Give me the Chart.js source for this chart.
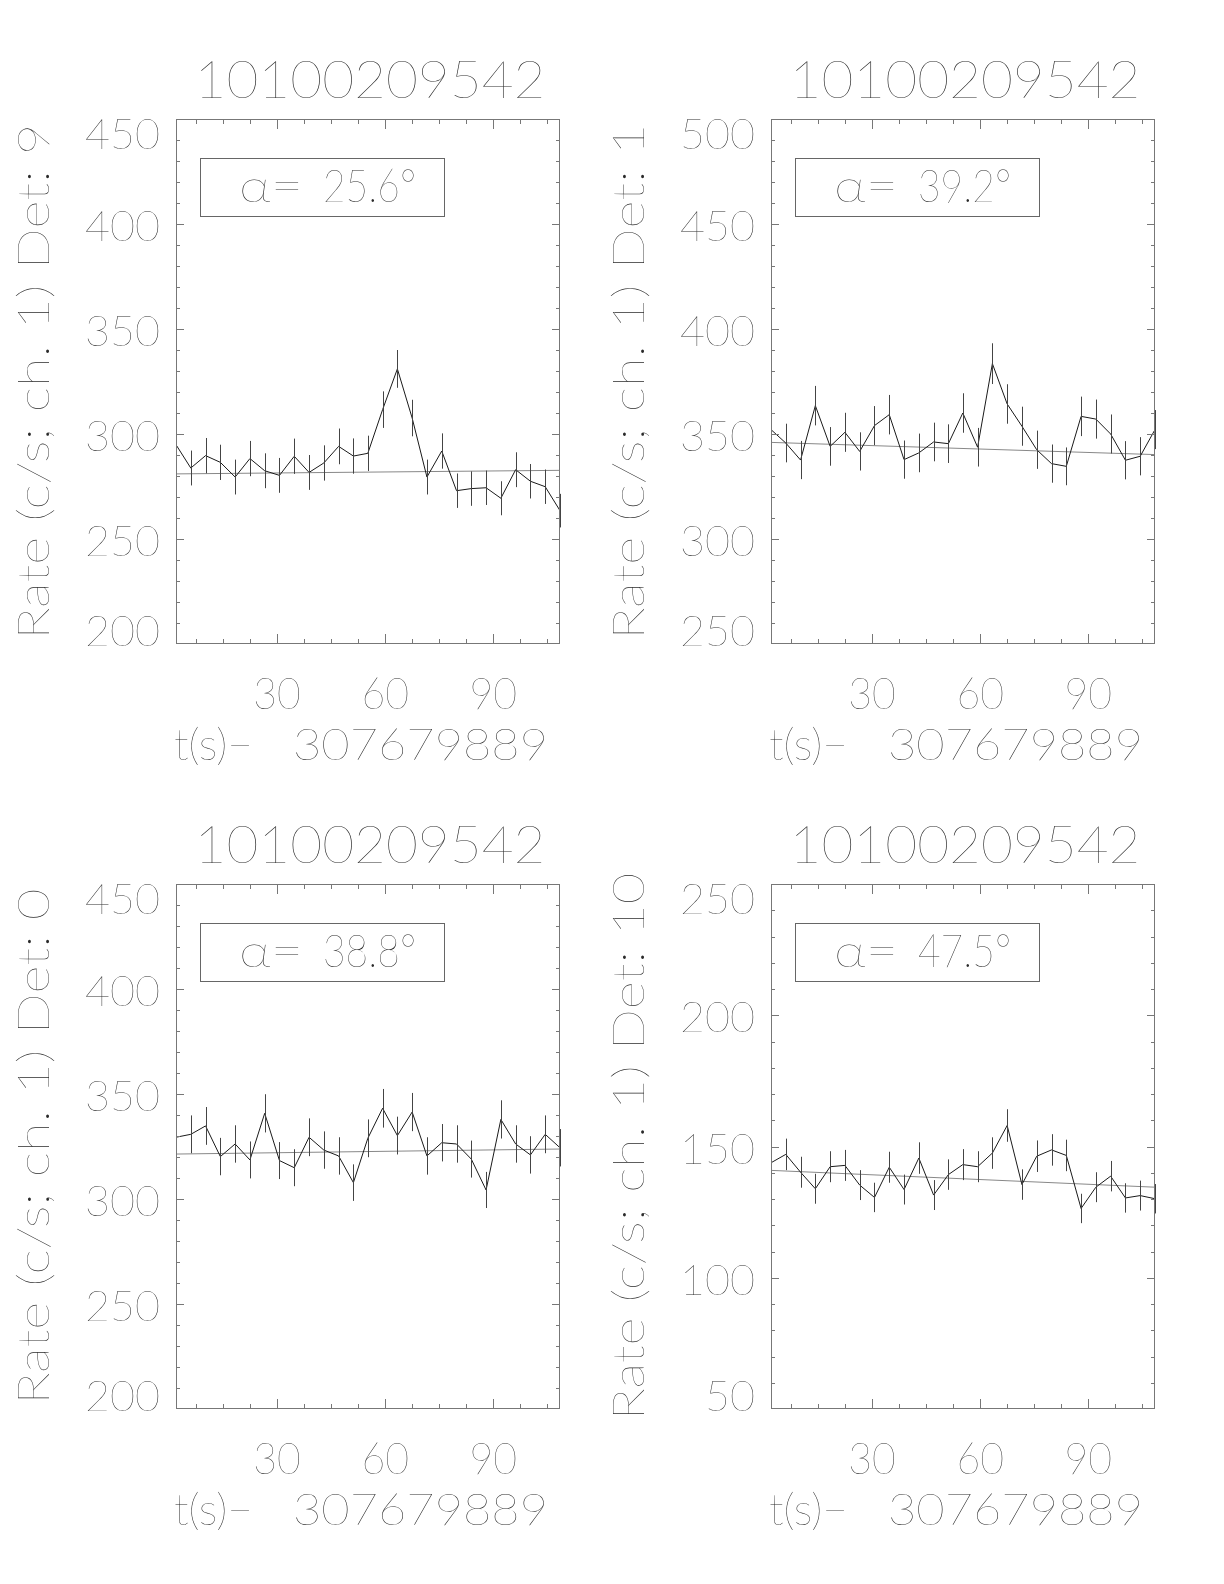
<!DOCTYPE html>
<html>
<head>
<meta charset="utf-8">
<script src="https://cdn.jsdelivr.net/npm/chart.js@4.4.0/dist/chart.umd.min.js"></script>
<style>
  html, body { margin: 0; padding: 0; background: #fff; }
  #page { position: relative; width: 1224px; height: 1584px; background: #fff; }
  canvas { position: absolute; }
</style>
</head>
<body>
<div id="page">
  <canvas id="det9" width="595" height="765" style="left:0;top:0"></canvas>
  <canvas id="det1" width="595" height="765" style="left:595px;top:0"></canvas>
  <canvas id="det0" width="595" height="765" style="left:0;top:765px"></canvas>
  <canvas id="det10" width="595" height="765" style="left:595px;top:765px"></canvas>
</div>
<script>
// Light curves, channel 1, four detectors

const obsId = '10100209542';
const tOffset = '307679889';

// bin times (s after tOffset)
const times = [2.0, 6.1, 10.2, 14.3, 18.4, 22.5, 26.6, 30.7, 34.8, 38.9, 43.0, 47.1, 51.2, 55.2,
  59.3, 63.4, 67.5, 71.6, 75.7, 79.8, 83.9, 88.0, 92.1, 96.2, 100.3, 104.4, 108.5];
const xTicks = [30, 60, 90];

// Det 9
const rateDet9 = [294.9, 283.8, 289.7, 286.5, 279.5, 288.3, 282.5, 280.3, 289.4, 281.7, 286.2, 294.1, 289.5, 290.8,
  311.6, 331.0, 307.6, 279.5, 291.9, 273.0, 274.0, 274.4, 269.4, 283.0, 277.5, 274.9, 263.5];
const errDet9 = [8.5, 8.3, 8.4, 8.4, 8.3, 8.4, 8.3, 8.3, 8.4, 8.3, 8.4, 8.5, 8.4, 8.4,
  8.7, 9.0, 8.7, 8.3, 8.4, 8.2, 8.2, 8.2, 8.1, 8.3, 8.2, 8.2, 8.0];
const fitDet9 = [281.0, 282.7];
const yTicksDet9 = [200, 250, 300, 350, 400, 450];

// Det 1
const rateDet1 = [352.1, 345.7, 337.6, 363.5, 344.1, 350.8, 341.7, 354.0, 359.2, 337.8, 341.0, 346.2, 345.4, 360.0,
  343.7, 383.5, 364.3, 353.7, 342.5, 335.9, 334.6, 358.4, 357.1, 350.0, 337.5, 339.4, 352.1];
const errDet1 = [9.3, 9.2, 9.1, 9.4, 9.2, 9.3, 9.1, 9.3, 9.4, 9.1, 9.2, 9.2, 9.2, 9.4,
  9.2, 9.7, 9.4, 9.3, 9.1, 9.1, 9.0, 9.4, 9.3, 9.3, 9.1, 9.1, 9.3];
const fitDet1 = [346.0, 340.2];
const yTicksDet1 = [250, 300, 350, 400, 450, 500];

// Det 0
const rateDet0 = [329.4, 330.8, 334.8, 320.2, 326.2, 318.6, 340.8, 318.3, 314.9, 329.4, 323.3, 320.5, 307.8, 328.9,
  343.2, 330.2, 341.4, 320.5, 326.8, 326.2, 319.0, 304.3, 337.9, 326.2, 321.0, 330.8, 324.4];
const errDet0 = [9.0, 9.0, 9.0, 8.9, 8.9, 8.8, 9.1, 8.8, 8.8, 9.0, 8.9, 8.9, 8.7, 9.0,
  9.2, 9.0, 9.1, 8.9, 8.9, 8.9, 8.8, 8.6, 9.1, 8.9, 8.9, 9.0, 8.9];
const fitDet0 = [321.4, 323.8];
const yTicksDet0 = [200, 250, 300, 350, 400, 450];

// Det 10
const rateDet10 = [143.8, 147.0, 140.2, 133.9, 142.3, 142.8, 135.3, 130.6, 142.1, 133.6, 145.6, 131.5, 139.3, 143.1,
  142.3, 147.5, 158.0, 135.5, 146.3, 148.7, 146.6, 126.4, 134.5, 138.7, 130.4, 131.3, 130.1];
const errDet10 = [5.9, 6.0, 5.9, 5.7, 5.9, 5.9, 5.7, 5.6, 5.9, 5.7, 6.0, 5.7, 5.8, 5.9,
  5.9, 6.0, 6.2, 5.8, 6.0, 6.0, 6.0, 5.6, 5.7, 5.8, 5.6, 5.7, 5.6];
const fitDet10 = [140.9, 134.5];
const yTicksDet10 = [50, 100, 150, 200, 250];

const panels = [
  { id: 'det9', det: '9', alpha: '25.6', rate: rateDet9, err: errDet9, fit: fitDet9, yTicks: yTicksDet9 },
  { id: 'det1', det: '1', alpha: '39.2', rate: rateDet1, err: errDet1, fit: fitDet1, yTicks: yTicksDet1 },
  { id: 'det0', det: '0', alpha: '38.8', rate: rateDet0, err: errDet0, fit: fitDet0, yTicks: yTicksDet0 },
  { id: 'det10', det: '10', alpha: '47.5', rate: rateDet10, err: errDet10, fit: fitDet10, yTicks: yTicksDet10 }
];

const fontStack = '"Lato", "Open Sans", "DejaVu Sans", sans-serif';
const fontWeight = '200';
const textColor = '#2a2a2a';
const frameColor = '#777';

// text styles: font size and the width a reference string should take
const styles = {
  title:  { size: 51, ref: obsId, width: 351 },
  ytick:  { size: 42, ref: '450', width: 75 },
  xtick:  { size: 44, ref: '30', width: 47.5 },
  xunit:  { size: 44, ref: 't(s)\u2212', width: 79 },
  xoff:   { size: 44, ref: tOffset, width: 255 },
  ytitle: { size: 43, ref: 'Rate (c/s; ch. 1) Det: 9', width: 516 },
  alphaSym: { size: 46, ref: '\u03b1=', width: 64 },
  alphaVal: { size: 46, ref: '25.6\u00b0', width: 93 }
};

// work out horizontal stretch for each style
const measureCtx = document.createElement('canvas').getContext('2d');
Object.keys(styles).forEach(function(k) {
  const s = styles[k];
  measureCtx.font = fontWeight + ' ' + s.size + 'px ' + fontStack;
  s.hs = s.width / measureCtx.measureText(s.ref).width;
});

function drawText(ctx, str, x, y, style, align, rotate) {
  ctx.save();
  ctx.font = fontWeight + ' ' + style.size + 'px ' + fontStack;
  ctx.fillStyle = textColor;
  ctx.textAlign = align;
  ctx.textBaseline = 'alphabetic';
  ctx.translate(x, y);
  if (rotate) ctx.rotate(-Math.PI / 2);
  ctx.scale(style.hs, 1);
  ctx.fillText(str, 0, 0);
  ctx.restore();
}

// frame, inward ticks, labels, error bars, alpha box
const idlAxes = {
  id: 'idlAxes',
  afterDatasetsDraw(chart, args, opts) {
    const ctx = chart.ctx;
    const xs = chart.scales.x;
    const ys = chart.scales.y;
    const a = chart.chartArea;
    const p = opts.panel;

    // error bars
    ctx.save();
    ctx.strokeStyle = '#444';
    ctx.lineWidth = 1;
    ctx.beginPath();
    times.forEach(function(t, i) {
      const px = Math.round(xs.getPixelForValue(t)) + 0.5;
      ctx.moveTo(px, ys.getPixelForValue(p.rate[i] + p.err[i]));
      ctx.lineTo(px, ys.getPixelForValue(p.rate[i] - p.err[i]));
    });
    ctx.stroke();

    // frame
    ctx.strokeStyle = frameColor;
    ctx.strokeRect(a.left + 0.5, a.top + 0.5, a.right - a.left - 1, a.bottom - a.top - 1);

    // x ticks
    ctx.beginPath();
    const xStep = xTicks[1] - xTicks[0];
    for (let v = xTicks[0] - xStep; v <= xs.max; v += xStep / 4) {
      if (v <= xs.min) continue;
      const px = Math.round(xs.getPixelForValue(v)) + 0.5;
      const len = xTicks.includes(v) ? 10 : 5;
      ctx.moveTo(px, a.top); ctx.lineTo(px, a.top + len);
      ctx.moveTo(px, a.bottom); ctx.lineTo(px, a.bottom - len);
    }
    // y ticks
    const yStep = p.yTicks[1] - p.yTicks[0];
    for (let v = ys.min + yStep / 5; v < ys.max - 0.01; v += yStep / 5) {
      const py = Math.round(ys.getPixelForValue(v)) + 0.5;
      const major = Math.abs(v / yStep - Math.round(v / yStep)) < 0.01;
      const len = major ? 8 : 4;
      ctx.moveTo(a.left, py); ctx.lineTo(a.left + len, py);
      ctx.moveTo(a.right, py); ctx.lineTo(a.right - len, py);
    }
    ctx.stroke();

    // alpha box
    ctx.strokeStyle = '#666';
    ctx.strokeRect(200.5, 158.5, 244, 58);
    ctx.restore();

    drawText(ctx, '\u03b1=', 239, 202, styles.alphaSym, 'left');
    drawText(ctx, p.alpha + '\u00b0', 323, 202, styles.alphaVal, 'left');

    // y tick labels
    p.yTicks.forEach(function(v, i) {
      let base = ys.getPixelForValue(v) + 15 + 2;
      if (i === p.yTicks.length - 1) base = a.top + 30;
      if (i === 0) base = a.bottom + 2;
      drawText(ctx, String(v), 160, base, styles.ytick, 'right');
    });
    // x tick labels
    xTicks.forEach(function(v) {
      drawText(ctx, String(v), xs.getPixelForValue(v), 709, styles.xtick, 'center');
    });

    // titles
    drawText(ctx, obsId, (a.left + a.right) / 2 + 2, 98, styles.title, 'center');
    drawText(ctx, 't(s)\u2212', 174, 760, styles.xunit, 'left');
    drawText(ctx, tOffset, 293, 760, styles.xoff, 'left');
    drawText(ctx, 'Rate (c/s; ch. 1) Det: ' + p.det, 48.5, (a.top + a.bottom) / 2, styles.ytitle, 'center', true);
  }
};

panels.forEach(function(p) {
  const ctx = document.getElementById(p.id).getContext('2d');
  const last = times.length - 1;
  new Chart(ctx, {
    type: 'line',
    data: {
      datasets: [{
        data: times.map(function(t, i) { return { x: t, y: p.rate[i] }; }),
        borderColor: '#1a1a1a',
        borderWidth: 1,
        pointRadius: 0,
        tension: 0
      }, {
        data: [{ x: times[0], y: p.fit[0] }, { x: times[last], y: p.fit[1] }],
        borderColor: '#888',
        borderWidth: 1,
        pointRadius: 0
      }]
    },
    options: {
      responsive: false,
      animation: false,
      events: [],
      layout: { padding: { left: 176, right: 35, top: 119, bottom: 121 } },
      plugins: {
        legend: { display: false },
        tooltip: { enabled: false },
        idlAxes: { panel: p }
      },
      scales: {
        x: { type: 'linear', min: times[0], max: times[last], display: false },
        y: { type: 'linear', min: p.yTicks[0], max: p.yTicks[p.yTicks.length - 1], display: false }
      }
    },
    plugins: [idlAxes]
  });
});
</script>
</body>
</html>
